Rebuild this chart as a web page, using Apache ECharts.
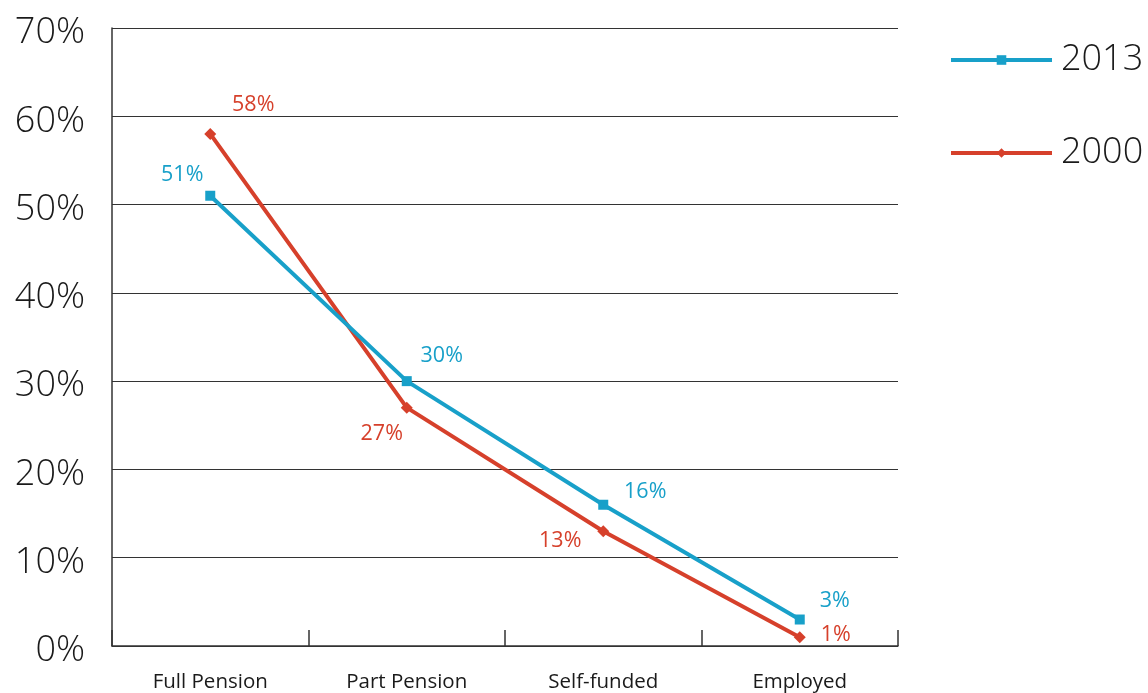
<!DOCTYPE html>
<html>
<head>
<meta charset="utf-8">
<script src="https://cdn.jsdelivr.net/npm/echarts@6/dist/echarts.min.js"></script>
<style>
  html, body { margin: 0; padding: 0; background: #fff; }
  #chart { width: 1148px; height: 693px; }
</style>
</head>
<body>
<div id="chart"></div>
<script>
// Income source categories and share of retirees (%) per year
const categories = ['Full Pension', 'Part Pension', 'Self-funded', 'Employed'];
const series2013 = [51, 30, 16, 3];
const series2000 = [58, 27, 13, 1];
const seriesNames = ['2013', '2000'];

// Label placement around each point (dx, dy), kept apart from the values
const offsets2013 = [[-28, -21], [35, -25], [42, -13], [35, -19]];
const offsets2000 = [[43, -29], [-25, 26], [-43, 10], [36, -2]];

const BLUE = '#18a0c9';
const RED = '#d6402b';
const FONT = 'Open Sans';

function withLabels(values, offsets, color) {
  return values.map((v, i) => ({
    value: v,
    label: {
      show: true,
      position: 'inside',
      offset: offsets[i],
      formatter: '{c}%',
      color: color,
      fontSize: 21.5,
      fontWeight: 'normal',
      fontFamily: FONT
    }
  }));
}

const chart = echarts.init(document.getElementById('chart'), null, { renderer: 'canvas' });
chart.setOption({
  animation: false,
  backgroundColor: '#fff',
  grid: { left: 112, right: 250, top: 28, bottom: 45, containLabel: false },
  legend: {
    orient: 'vertical',
    left: 944,
    top: 35,
    itemWidth: 101,
    itemHeight: 12,
    itemGap: 53,
    data: seriesNames,
    lineStyle: { width: 4 },
    textStyle: { fontSize: 36, fontWeight: 300, fontFamily: FONT, color: '#1a1a1a', lineHeight: 40, padding: [0, 0, 0, 4] }
  },
  xAxis: {
    type: 'category',
    data: categories,
    boundaryGap: true,
    axisLine: { show: true, lineStyle: { color: '#333', width: 1.5 } },
    axisTick: { show: true, inside: true, length: 16, interval: 0, lineStyle: { color: '#333', width: 1.5 } },
    axisLabel: { fontSize: 20.5, fontWeight: 'normal', fontFamily: FONT, color: '#1a1a1a', margin: 26, interval: 0 }
  },
  yAxis: {
    type: 'value',
    min: 0,
    max: 70,
    interval: 10,
    axisLine: { show: true, lineStyle: { color: '#333', width: 1.5 } },
    axisTick: { show: false },
    splitLine: { show: true, lineStyle: { color: '#333', width: 1.2 } },
    axisLabel: {
      formatter: function (v) { return '{v|' + v + '%}'; },
      margin: 27,
      rich: {
        v: { fontSize: 36, fontWeight: 300, fontFamily: FONT, color: '#1a1a1a', padding: [10, 0, 0, 0] }
      }
    }
  },
  series: [
    {
      name: seriesNames[0],
      type: 'line',
      data: withLabels(series2013, offsets2013, BLUE),
      symbol: 'rect',
      symbolSize: 10,
      lineStyle: { color: BLUE, width: 4 },
      itemStyle: { color: BLUE },
      z: 3
    },
    {
      name: seriesNames[1],
      type: 'line',
      data: withLabels(series2000, offsets2000, RED),
      symbol: 'diamond',
      symbolSize: 12,
      lineStyle: { color: RED, width: 4 },
      itemStyle: { color: RED },
      z: 2
    }
  ]
});
</script>
</body>
</html>
